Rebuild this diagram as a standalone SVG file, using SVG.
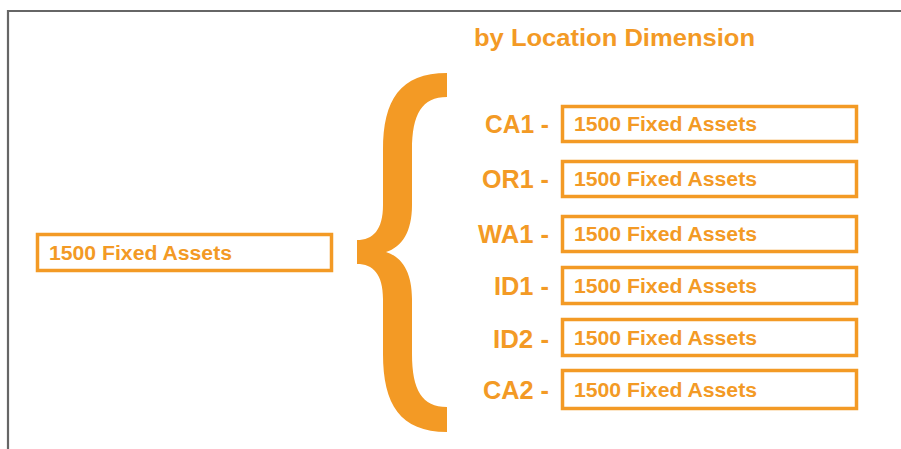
<svg xmlns="http://www.w3.org/2000/svg" width="901" height="449" viewBox="0 0 901 449">
<style>
.box{fill:#fff;stroke:#F39A25;stroke-width:3.5}
.t{font-family:"Liberation Sans",Arial,sans-serif;font-weight:bold;fill:#F39A25}
.bt{font-size:20px}
.lb{font-size:25px;text-anchor:end}
.hd{font-size:24px}
</style>
<rect width="901" height="449" fill="#fff"/>
<path d="M8,449 L8,11 L901,11" fill="none" stroke="#666" stroke-width="2.2"/>
<text class="t hd" x="474" y="46" textLength="281" lengthAdjust="spacingAndGlyphs">by Location Dimension</text>
<g id="brace">
<path fill="#F39A25" d="M447,73 C400,73 383,100 383,150 L383,205 C383,230 373,240 357,240 L357,264 C373,264 383,274 383,299 L383,354 C383,404 400,432 447,432 L447,407 C422,407 412,390 412,354 L412,299 C412,272 402,257 386,252 C402,247 412,232 412,205 L412,150 C412,114 422,97 447,97 Z"/>
</g>
<g id="source">
<rect class="box" x="37.5" y="234.5" width="294" height="36"/>
<text class="t bt" x="49" y="260" textLength="183" lengthAdjust="spacingAndGlyphs">1500 Fixed Assets</text>
</g>
<g id="ca1">
<text class="t lb" x="549" y="133" textLength="64" lengthAdjust="spacingAndGlyphs">CA1 -</text>
<rect class="box" x="562.5" y="106.5" width="294" height="35"/>
<text class="t bt" x="574" y="131" textLength="183" lengthAdjust="spacingAndGlyphs">1500 Fixed Assets</text>
</g>
<g id="or1">
<text class="t lb" x="549" y="188" textLength="67" lengthAdjust="spacingAndGlyphs">OR1 -</text>
<rect class="box" x="562.5" y="161.5" width="294" height="35"/>
<text class="t bt" x="574" y="186" textLength="183" lengthAdjust="spacingAndGlyphs">1500 Fixed Assets</text>
</g>
<g id="wa1">
<text class="t lb" x="549" y="243" textLength="71" lengthAdjust="spacingAndGlyphs">WA1 -</text>
<rect class="box" x="562.5" y="216.5" width="294" height="35"/>
<text class="t bt" x="574" y="241" textLength="183" lengthAdjust="spacingAndGlyphs">1500 Fixed Assets</text>
</g>
<g id="id1">
<text class="t lb" x="549" y="295" textLength="55" lengthAdjust="spacingAndGlyphs">ID1 -</text>
<rect class="box" x="562.5" y="267.5" width="294" height="36"/>
<text class="t bt" x="574" y="293" textLength="183" lengthAdjust="spacingAndGlyphs">1500 Fixed Assets</text>
</g>
<g id="id2">
<text class="t lb" x="549" y="348" textLength="56" lengthAdjust="spacingAndGlyphs">ID2 -</text>
<rect class="box" x="562.5" y="319.5" width="294" height="36"/>
<text class="t bt" x="574" y="345" textLength="183" lengthAdjust="spacingAndGlyphs">1500 Fixed Assets</text>
</g>
<g id="ca2">
<text class="t lb" x="549" y="399" textLength="66" lengthAdjust="spacingAndGlyphs">CA2 -</text>
<rect class="box" x="562.5" y="370.5" width="294" height="38"/>
<text class="t bt" x="574" y="397" textLength="183" lengthAdjust="spacingAndGlyphs">1500 Fixed Assets</text>
</g>
<g id="connectors"></g>
</svg>
